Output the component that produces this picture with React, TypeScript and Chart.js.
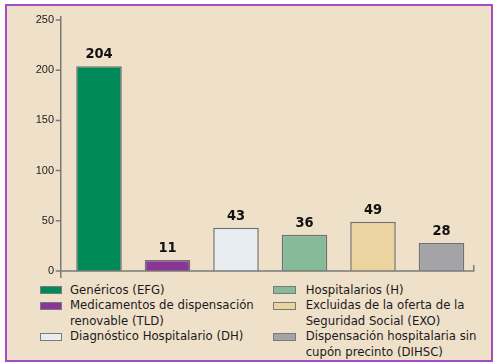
import React, { useEffect, useRef } from "react";
import { Chart, registerables } from "chart.js";

Chart.register(...registerables);

const categories = [
  "Genéricos (EFG)",
  "Medicamentos de dispensación renovable (TLD)",
  "Diagnóstico Hospitalario (DH)",
  "Hospitalarios (H)",
  "Excluidas de la oferta de la Seguridad Social (EXO)",
  "Dispensación hospitalaria sin cupón precinto (DIHSC)",
];
const legendLines = [
  ["Genéricos (EFG)"],
  ["Medicamentos de dispensación", "renovable (TLD)"],
  ["Diagnóstico Hospitalario (DH)"],
  ["Hospitalarios (H)"],
  ["Excluidas de la oferta de la", "Seguridad Social (EXO)"],
  ["Dispensación hospitalaria sin", "cupón precinto (DIHSC)"],
];
const values = [204, 11, 43, 36, 49, 28];
const barColors = ["#008a5a", "#8b3597", "#e7edf1", "#86ba98", "#ebd49f", "#a4a4a8"];
const yTicks = [0, 50, 100, 150, 200, 250];

const NARROW = "'DejaVu Sans Condensed', 'Liberation Sans Narrow', sans-serif";
const AXIS = "#7a7a7a";

function LegendColumn({ items, left, boxW, gap }: { items: number[]; left: number; boxW: number; gap: number }) {
  return (
    <div style={{ position: "absolute", left, top: 281.6, fontFamily: NARROW, fontSize: 13, lineHeight: "15.6px", color: "#1a1a1a", fontStretch: "condensed" }}>
      {items.map((i) => (
        <div key={i} style={{ display: "flex", alignItems: "flex-start" }}>
          <div
            style={{
              width: boxW,
              height: 8,
              marginTop: 4.5,
              marginRight: gap,
              background: barColors[i],
              border: "1px solid #7a7a7a",
              boxSizing: "border-box",
              flex: "none",
            }}
          />
          <div style={{ whiteSpace: "nowrap" }}>
            {legendLines[i].map((l, k) => (
              <div key={k}>{l}</div>
            ))}
          </div>
        </div>
      ))}
    </div>
  );
}

export default function App() {
  const ref = useRef<HTMLCanvasElement>(null);

  useEffect(() => {
    if (!ref.current) return;
    const axesPlugin = {
      id: "axesPlugin",
      afterDatasetsDraw(chart: any) {
        const { ctx, chartArea } = chart;
        const y = chart.scales.y;
        const x0 = chartArea.left - 4;
        const yb = y.getPixelForValue(0);
        ctx.save();
        ctx.strokeStyle = AXIS;
        ctx.lineWidth = 1.5;
        ctx.beginPath();
        ctx.moveTo(x0, y.getPixelForValue(254));
        ctx.lineTo(x0, yb + 7);
        for (const v of yTicks) {
          const py = y.getPixelForValue(v);
          ctx.moveTo(x0 - 5, py);
          ctx.lineTo(x0, py);
        }
        ctx.moveTo(x0, yb);
        ctx.lineTo(chartArea.right - 2, yb);
        ctx.lineTo(chartArea.right - 2, yb - 6);
        ctx.stroke();
        // value labels
        const meta = chart.getDatasetMeta(0);
        ctx.fillStyle = "#111";
        ctx.font = `bold 14.5px ${NARROW}`;
        ctx.textAlign = "center";
        ctx.textBaseline = "alphabetic";
        meta.data.forEach((bar: any, i: number) => {
          ctx.fillText(String(values[i]), bar.x, bar.y - 8);
        });
        ctx.restore();
      },
    };

    const chart = new Chart(ref.current, {
      type: "bar",
      data: {
        labels: categories,
        datasets: [
          {
            data: values,
            backgroundColor: barColors,
            borderColor: "#707070",
            borderWidth: 1.5,
            barPercentage: 0.665,
            categoryPercentage: 1,
          },
        ],
      },
      options: {
        animation: false,
        responsive: false,
        devicePixelRatio: 1,
        layout: { padding: { left: 24.75, right: 22.25, top: 20, bottom: 9 } },
        plugins: { legend: { display: false }, tooltip: { enabled: false } },
        scales: {
          x: { display: false },
          y: {
            min: 0,
            max: 250,
            afterFit: (s: any) => {
              s.width = 40;
              s.paddingTop = 0;
              s.paddingBottom = 0;
            },
            afterBuildTicks: (s: any) => {
              s.ticks = yTicks.map((v) => ({ value: v }));
            },
            grid: { display: false, drawTicks: false },
            border: { display: false },
            ticks: {
              padding: 10.75,
              color: "#222",
              font: { family: "'Liberation Sans', Arial, sans-serif", size: 11 },
            },
          },
        },
      },
      plugins: [axesPlugin],
    });
    return () => chart.destroy();
  }, []);

  return (
    <div style={{ position: "fixed", left: 0, top: 0, width: 498, height: 364, background: "#fff", overflow: "hidden" }}>
      <div
        style={{
          position: "absolute",
          left: 5,
          top: 4,
          width: 488,
          height: 358,
          border: "2px solid #a44cc2",
          background: "#efe0ca",
          boxSizing: "border-box",
        }}
      />
      <canvas ref={ref} width={498} height={280} style={{ position: "absolute", left: 0, top: 0, width: 498, height: 280 }} />
      <LegendColumn items={[0, 1, 2]} left={40} boxW={22} gap={8} />
      <LegendColumn items={[3, 4, 5]} left={273} boxW={23} gap={9.7} />
    </div>
  );
}
